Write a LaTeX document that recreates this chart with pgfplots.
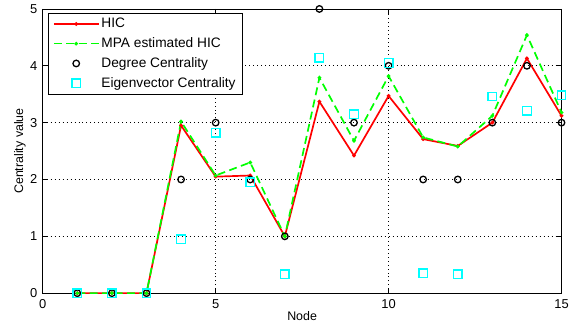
\documentclass[border=0pt]{standalone}
\usepackage{fontspec}
\setmainfont{Liberation Sans}
\usepackage{pgfplots}
\pgfplotsset{compat=1.18}
\definecolor{mred}{rgb}{1,0,0}
\definecolor{mgreen}{rgb}{0,1,0}
\definecolor{mcyan}{rgb}{0,1,1}
\pgfplotsset{
  linelegend/.style={legend image code/.code={\draw[##1, line width=1.7pt] (0pt,0pt) -- (45pt,0pt); \draw[##1, only marks, line width=1.7pt] plot coordinates {(22.5pt,0pt)};}},
  circlegend/.style={legend image code/.code={\draw[##1, line width=1.3pt] plot coordinates {(22.5pt,0pt)};}},
  sqlegend/.style={legend image code/.code={\draw[##1, line width=1.4pt] plot coordinates {(22.5pt,0pt)};}},
}
\begin{document}
\fontsize{13}{15}\selectfont
\begin{tikzpicture}
\begin{axis}[
  name=ax,
  scale only axis,
  width=522pt, height=286pt,
  xmin=0, xmax=15, ymin=0, ymax=5,
  xtick={0,5,10,15}, ytick={0,1,2,3,4,5},
  tick align=inside,
  major tick length=5pt,
  xmajorgrids, ymajorgrids,
  grid style={black, dash pattern=on 0.8pt off 3.2pt, line width=0.6pt},
  axis line style={black, line width=0.7pt},
  tick style={black, line width=0.6pt},
  /pgf/number format/assume math mode=true,
  ticklabel style={font=\fontsize{13}{15}\selectfont},
  xticklabel style={yshift=-2pt},
  yticklabel style={xshift=-1pt},
  xlabel={Node}, ylabel={Centrality value},
  every axis x label/.style={at={(rel axis cs:0.5,0)}, yshift=-23pt, anchor=center, font=\fontsize{12.5}{14}\selectfont},
  every axis y label/.style={at={(rel axis cs:0,0.5)}, xshift=-23pt, rotate=90, anchor=center, font=\fontsize{12.5}{14}\selectfont},
  legend cell align=left,
  legend style={draw=black, line width=0.7pt, font=\fontsize{13.8}{16}\selectfont, inner xsep=5pt, inner ysep=3pt, row sep=4pt, anchor=north west, at={(rel axis cs:0,1)}, xshift=5pt, yshift=-4pt},
]
\addplot[mred, line width=1.7pt, mark=*, mark size=0.9pt, linelegend] coordinates {
(1,0) (2,0) (3,0) (4,2.95) (5,2.05) (6,2.07) (7,1.0) (8,3.37) (9,2.42) (10,3.47) (11,2.71) (12,2.59) (13,3.0) (14,4.13) (15,3.12)};
\addlegendentry{HIC}
\addplot[mgreen, line width=1.7pt, dash pattern=on 8pt off 4.5pt, mark=*, mark size=0.9pt, mark options={solid}, linelegend] coordinates {
(1,0) (2,0) (3,0) (4,3.02) (5,2.07) (6,2.3) (7,1.0) (8,3.79) (9,2.68) (10,3.82) (11,2.74) (12,2.58) (13,3.12) (14,4.54) (15,3.18)};
\addlegendentry{MPA estimated HIC}
\addplot[only marks, mark=o, mark size=3.3pt, black, line width=1.3pt, circlegend] coordinates {
(1,0) (2,0) (3,0) (4,2) (5,3) (6,2) (7,1) (8,5) (9,3) (10,4) (11,2) (12,2) (13,3) (14,4) (15,3)};
\addlegendentry{Degree Centrality}
\addplot[only marks, mark=square, mark size=4.3pt, mcyan, line width=1.4pt, sqlegend] coordinates {
(1,0) (2,0) (3,0) (4,0.95) (5,2.82) (6,1.95) (7,0.33) (8,4.14) (9,3.15) (10,4.05) (11,0.35) (12,0.33) (13,3.46) (14,3.21) (15,3.48)};
\addlegendentry{Eigenvector Centrality}
\end{axis}
\path ([xshift=-43pt,yshift=-34pt]ax.south west) rectangle ([xshift=8pt,yshift=9pt]ax.north east);
\end{tikzpicture}
\end{document}
